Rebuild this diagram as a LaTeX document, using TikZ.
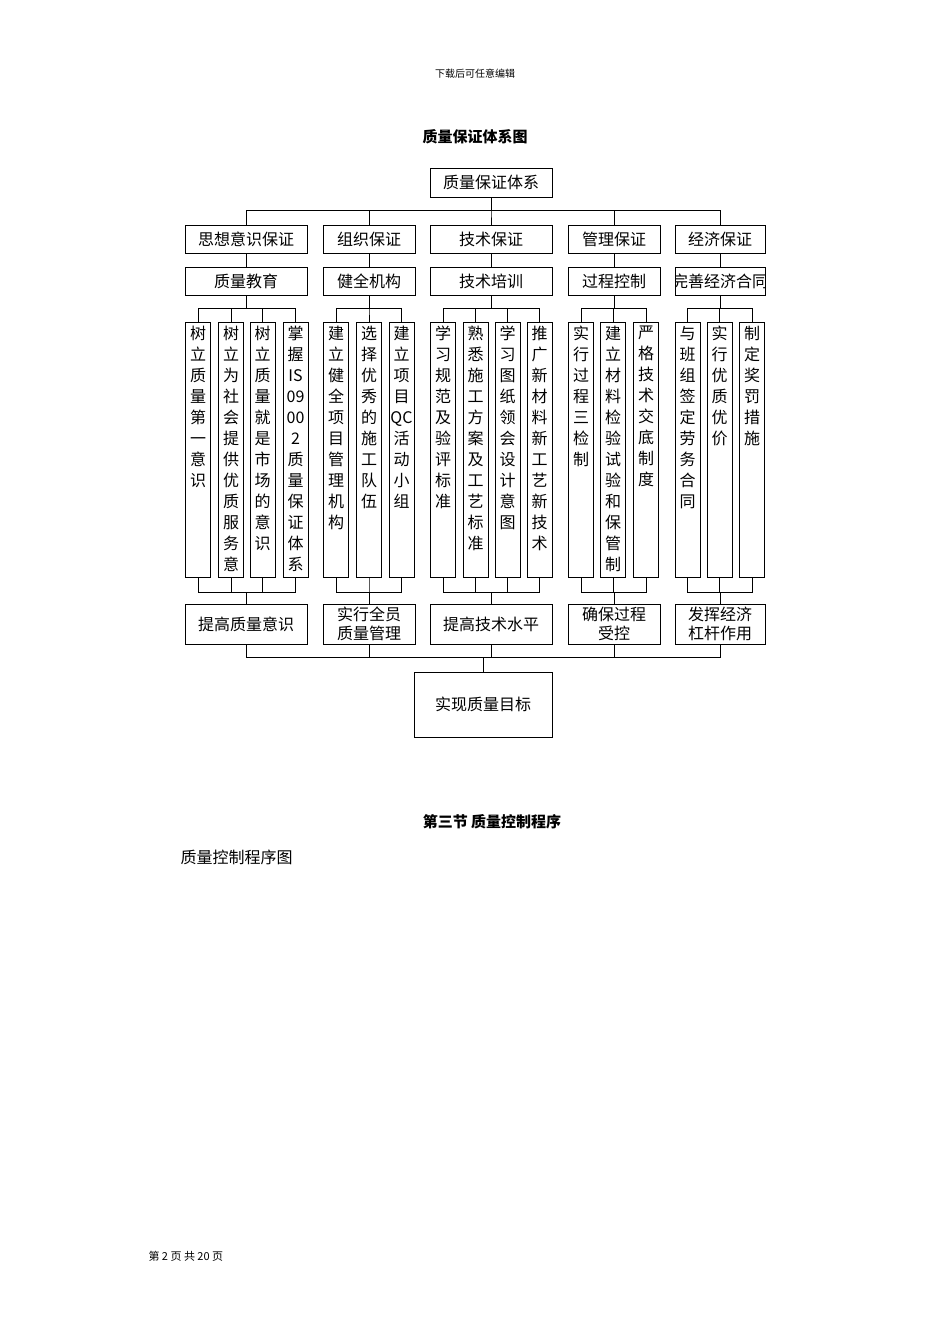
\documentclass[tikz,border=0pt]{standalone}
\usepackage{fontspec}
\setmainfont{Noto Sans CJK SC}
\begin{document}
\begin{tikzpicture}[x=1pt,y=-1pt,
  bx/.style={draw,line width=0.8pt,inner sep=0pt,font=\fontsize{16}{20}\selectfont},
  col/.style={bx},
  ctext/.style={anchor=north,inner sep=0pt,align=center,font=\fontsize{16}{21}\selectfont},
  ln/.style={line width=0.8pt}]
\useasboundingbox (0,0) rectangle (950,1344);
\node[font=\fontsize{10}{12}\selectfont] (hdr) at (475,74) {下载后可任意编辑};
\node[font=\fontsize{15}{18}\selectfont\bfseries] (ttl) at (475,137) {\textbf{质量保证体系图}};
\node[bx,minimum width=122,minimum height=29] (top) at (491,182.5) {质量保证体系};
% level 1 & 2
\def\Ly{239}\def\Lyy{281}
\node[bx,minimum width=122,minimum height=28] (a1) at (246,239) {思想意识保证};
\node[bx,minimum width=92,minimum height=28] (b1) at (369,239) {组织保证};
\node[bx,minimum width=122,minimum height=28] (c1) at (491,239) {技术保证};
\node[bx,minimum width=92,minimum height=28] (d1) at (614,239) {管理保证};
\node[bx,minimum width=90,minimum height=28] (e1) at (720,239) {经济保证};
\node[bx,minimum width=122,minimum height=28] (a2) at (246,281) {质量教育};
\node[bx,minimum width=92,minimum height=28] (b2) at (369,281) {健全机构};
\node[bx,minimum width=122,minimum height=28] (c2) at (491,281) {技术培训};
\node[bx,minimum width=92,minimum height=28] (d2) at (614,281) {过程控制};
\node[bx,minimum width=90,minimum height=28] (e2) at (720,281) {};
\begin{scope}
\clip (676,268) rectangle (764,294);
\node[font=\fontsize{16}{20}\selectfont] (e2t) at (720,281) {完善经济合同};
\end{scope}
% level 3 columns
\foreach \n/\x/\t in {
 p1/198/{树\\立\\质\\量\\第\\一\\意\\识},
 p2/231/{树\\立\\为\\社\\会\\提\\供\\优\\质\\服\\务\\意},
 p3/262.5/{树\\立\\质\\量\\就\\是\\市\\场\\的\\意\\识},
 p4/295.5/{掌\\握\\IS\\09\\00\\2\\质\\量\\保\\证\\体\\系},
 q1/336/{建\\立\\健\\全\\项\\目\\管\\理\\机\\构},
 q2/369/{选\\择\\优\\秀\\的\\施\\工\\队\\伍},
 q3/401.5/{建\\立\\项\\目\\QC\\活\\动\\小\\组},
 r1/443/{学\\习\\规\\范\\及\\验\\评\\标\\准},
 r2/475.5/{熟\\悉\\施\\工\\方\\案\\及\\工\\艺\\标\\准},
 r3/507.5/{学\\习\\图\\纸\\领\\会\\设\\计\\意\\图},
 r4/539.5/{推\\广\\新\\材\\料\\新\\工\\艺\\新\\技\\术},
 s1/581/{实\\行\\过\\程\\三\\检\\制},
 s2/613/{建\\立\\材\\料\\检\\验\\试\\验\\和\\保\\管\\制},
 s3/646/{严\\格\\技\\术\\交\\底\\制\\度},
 t1/687.5/{与\\班\\组\\签\\定\\劳\\务\\合\\同},
 t2/719.5/{实\\行\\优\\质\\优\\价},
 t3/752/{制\\定\\奖\\罚\\措\\施}}{
 \node[col,minimum width=25,minimum height=255] (\n) at (\x,449.5) {};
 \node[ctext] (\n t) at (\x,326) {\t};
}
% level 4
\node[bx,minimum width=122,minimum height=40] (a4) at (246,624) {提高质量意识};
\node[bx,minimum width=92,minimum height=40,align=center,font=\fontsize{16}{19}\selectfont] (b4) at (369,624) {实行全员\\质量管理};
\node[bx,minimum width=122,minimum height=40] (c4) at (491,624) {提高技术水平};
\node[bx,minimum width=92,minimum height=40,align=center,font=\fontsize{16}{19}\selectfont] (d4) at (614,624) {确保过程\\受控};
\node[bx,minimum width=90,minimum height=40,align=center,font=\fontsize{16}{19}\selectfont] (e4) at (720,624) {发挥经济\\杠杆作用};
\node[bx,minimum width=138,minimum height=65] (fin) at (483,704.5) {实现质量目标};
% connectors
\foreach \c in {a1,b1,c1,d1,e1} \draw[ln] (top.south) -- ++(0,13) -| (\c.north);
\foreach \p in {a,b,c,d,e} \draw[ln] (\p1.south) -- (\p2.north);
\foreach \c in {p1,p2,p3,p4} {\draw[ln] (a2.south) -- ++(0,13) -| (\c.north); \draw[ln] (\c.south) -- ++(0,15) -| (a4.north);}
\foreach \c in {q1,q2,q3} {\draw[ln] (b2.south) -- ++(0,13) -| (\c.north); \draw[ln] (\c.south) -- ++(0,15) -| (b4.north);}
\foreach \c in {r1,r2,r3,r4} {\draw[ln] (c2.south) -- ++(0,13) -| (\c.north); \draw[ln] (\c.south) -- ++(0,15) -| (c4.north);}
\foreach \c in {s1,s2,s3} {\draw[ln] (d2.south) -- ++(0,13) -| (\c.north); \draw[ln] (\c.south) -- ++(0,15) -| (d4.north);}
\foreach \c in {t1,t2,t3} {\draw[ln] (e2.south) -- ++(0,13) -| (\c.north); \draw[ln] (\c.south) -- ++(0,15) -| (e4.north);}
\foreach \c in {a4,b4,c4,d4,e4} \draw[ln] (\c.south) -- ++(0,13) -| (fin.north);
% texts below
\node[font=\fontsize{15}{18}\selectfont] (sec) at (492,822) {\textbf{第三节 质量控制程序}};
\node[anchor=west,font=\fontsize{16}{20}\selectfont] (sub) at (177,857) {质量控制程序图};
\node[anchor=west,font=\fontsize{11}{13}\selectfont] (ftr) at (145,1256) {第 2 页 共 20 页};
\end{tikzpicture}
\end{document}
